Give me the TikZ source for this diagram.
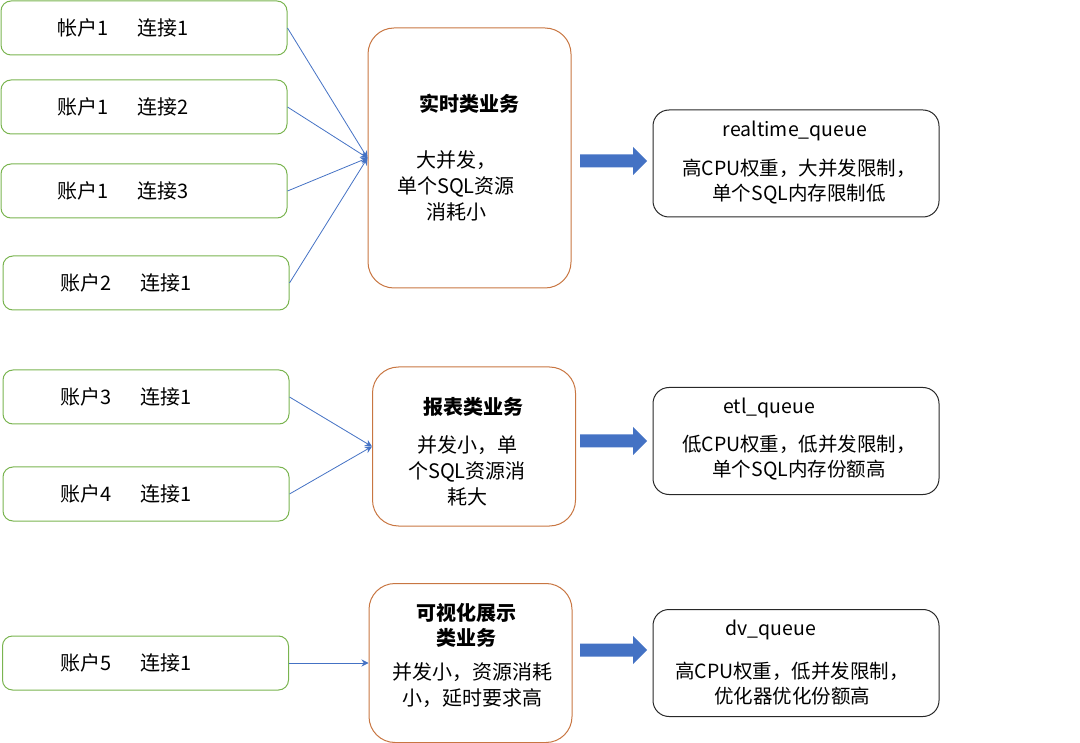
\documentclass[tikz,border=0pt]{standalone}
\usepackage{fontspec}
\setmainfont{Noto Sans CJK SC}
\usetikzlibrary{arrows.meta}
\definecolor{gborder}{RGB}{122,180,80}
\definecolor{oborder}{RGB}{200,118,66}
\definecolor{bline}{RGB}{68,114,196}
\definecolor{kborder}{RGB}{40,40,40}
\tikzset{
  acct/.style={draw=gborder, line width=1pt, rounded corners=10pt, minimum width=286pt, minimum height=54pt, inner sep=0pt},
  biz/.style={draw=oborder, line width=1pt, rounded corners=26pt, minimum width=203pt, inner sep=0pt},
  queue/.style={draw=kborder, line width=1pt, rounded corners=16pt, minimum width=286pt, minimum height=107pt, inner sep=0pt},
  txt/.style={font=\fontsize{20}{26}\selectfont, inner sep=0pt, align=center},
  qtxt/.style={font=\fontsize{19.5}{25}\selectfont, inner sep=0pt, align=center},
  ttl/.style={font=\fontsize{20}{25}\selectfont\bfseries, inner sep=0pt, align=center},
  conn/.style={draw=bline, line width=0.8pt, -{Stealth[length=7pt,width=7pt]}},
  barrow/.style={fill=bline, draw=none}
}
\begin{document}
\begin{tikzpicture}[x=1pt,y=-1pt]
\useasboundingbox (0,0) rectangle (1080,743);
% left account boxes
\node[acct] (a1) at (144,28) {};
\node[acct] (a2) at (144,107) {};
\node[acct] (a3) at (144,191) {};
\node[acct] (a4) at (146,283) {};
\node[acct] (a5) at (146,397) {};
\node[acct] (a6) at (146,494) {};
\node[acct] (a7) at (145.5,663) {};
\node[txt, anchor=west] (t1) at (57,28) {帐户1\hspace{29pt}连接1};
\node[txt, anchor=west] (t2) at (57,107) {账户1\hspace{29pt}连接2};
\node[txt, anchor=west] (t3) at (57,191) {账户1\hspace{29pt}连接3};
\node[txt, anchor=west] (t4) at (60,283) {账户2\hspace{29pt}连接1};
\node[txt, anchor=west] (t5) at (60,397) {账户3\hspace{29pt}连接1};
\node[txt, anchor=west] (t6) at (60,494) {账户4\hspace{29pt}连接1};
\node[txt, anchor=west] (t7) at (60,663) {账户5\hspace{29pt}连接1};
% middle business boxes
\node[biz, minimum height=260pt] (m1) at (469.5,158) {};
\node[biz, minimum height=159pt] (m2) at (474,446.5) {};
\node[biz, minimum height=159pt] (m3) at (470.5,663) {};
\node[ttl] (m1t) at (469,104) {实时类业务};
\node[txt] (m1b) at (456,186) {大并发，\\单个SQL资源\\消耗小};
\node[ttl] (m2t) at (473,407) {报表类业务};
\node[txt] (m2b) at (467,471) {并发小，单\\个SQL资源消\\耗大};
\node[ttl] (m3t) at (466,625) {可视化展示\\类业务};
\node[txt] (m3b) at (472,685) {并发小，资源消耗\\小，延时要求高};
% right queue boxes
\node[queue] (r1) at (796,163.5) {};
\node[queue] (r2) at (796,441) {};
\node[queue] (r3) at (796,663) {};
\node[qtxt] (r1t) at (795,131) {realtime\_queue};
\node[qtxt] (r1b) at (799,182) {高CPU权重，大并发限制，\\单个SQL内存限制低};
\node[qtxt] (r2t) at (769,408) {etl\_queue};
\node[qtxt] (r2b) at (799,458) {低CPU权重，低并发限制，\\单个SQL内存份额高};
\node[qtxt] (r3t) at (771,630) {dv\_queue};
\node[qtxt] (r3b) at (792,684) {高CPU权重，低并发限制，\\优化器优化份额高};
% connectors
\draw[conn] (a1.east) -- (m1.west);
\draw[conn] (a2.east) -- (m1.west);
\draw[conn] (a3.east) -- (m1.west);
\draw[conn] (a4.east) -- (m1.west);
\draw[conn] (a5.east) -- (m2.west);
\draw[conn] (a6.east) -- (m2.west);
\draw[conn] (a7.east) -- (m3.west);
% block arrows
\foreach \yy in {161,441,650}{
  \fill[barrow] (580,\yy-6.5) -- (633,\yy-6.5) -- (633,\yy-14) -- (647,\yy) -- (633,\yy+14) -- (633,\yy+6.5) -- (580,\yy+6.5) -- cycle;
}
\end{tikzpicture}
\end{document}
